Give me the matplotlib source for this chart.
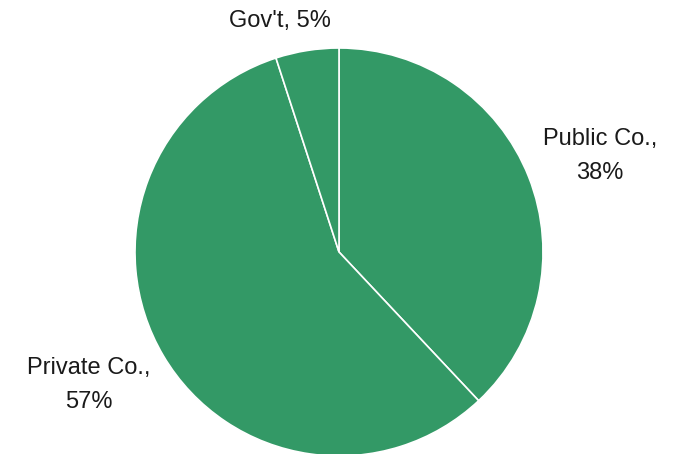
import matplotlib
matplotlib.use('Agg')
import matplotlib.pyplot as plt

# slice data, clockwise from the top
labels = ["Public Co.,\n38%", "Private Co.,\n57%", "Gov't, 5%"]
shares = [38, 57, 5]

plt.rcParams['font.family'] = ['Liberation Sans', 'DejaVu Sans']

W, H = 677, 454
fig = plt.figure(figsize=(W / 100, H / 100), dpi=100)

# pie centre (339, 252) px, radius 204 px
cx, cy, r = 339, 252, 204
ax = fig.add_axes([(cx - r) / W, (H - cy - r) / H, 2 * r / W, 2 * r / H])

wedges, texts = ax.pie(shares, labels=labels, startangle=90, counterclock=False,
                       colors=['#339966'] * 3, radius=1, center=(0, 0),
                       wedgeprops=dict(edgecolor='white', linewidth=1.2),
                       textprops=dict(fontsize=17, color='#1a1a1a', ha='center',
                                      va='center', linespacing=1.75))
ax.set_xlim(-1, 1)
ax.set_ylim(-1, 1)
ax.set_aspect('auto')
ax.axis('off')
for w in wedges:
    w.set_clip_on(False)

# label positions (in pie radius units)
label_pos = [(1.279, 0.471), (-1.225, -0.652), (-0.289, 1.132)]
for t, (x, y) in zip(texts, label_pos):
    t.set_position((x, y))
    t.set_ha('center')
    t.set_va('center')
    t.set_clip_on(False)

fig.savefig('out.png', dpi=100)
